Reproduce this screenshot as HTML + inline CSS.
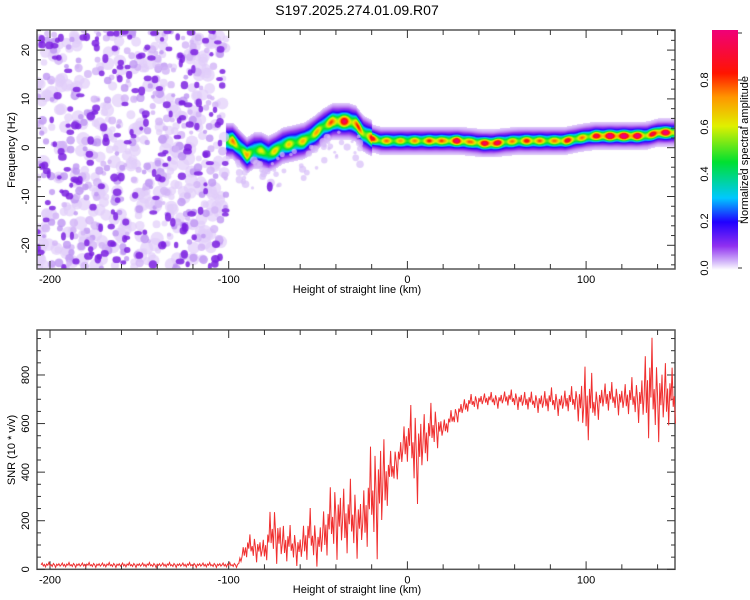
<!DOCTYPE html>
<html><head><meta charset="utf-8"><style>
body{margin:0;background:#fff;width:750px;height:600px;overflow:hidden;position:relative;font-family:"Liberation Sans",sans-serif}
#hm{position:absolute;left:37px;top:30px}
svg{position:absolute;left:0;top:0}
text{font-family:"Liberation Sans",sans-serif;font-size:11px;fill:#000}
</style></head><body>
<canvas id="hm" width="638" height="239"></canvas>
<svg id="s" width="750" height="600">
<defs><linearGradient id="cb" x1="0" y1="1" x2="0" y2="0">
<stop offset="0" stop-color="#ffffff"/><stop offset="0.03" stop-color="#d8c0fa"/><stop offset="0.1" stop-color="#9030f0"/>
<stop offset="0.2" stop-color="#2000ff"/><stop offset="0.3" stop-color="#00c8ff"/><stop offset="0.45" stop-color="#00e030"/>
<stop offset="0.6" stop-color="#e0f000"/><stop offset="0.72" stop-color="#ff9600"/><stop offset="0.82" stop-color="#ff1400"/><stop offset="1" stop-color="#f00078"/></linearGradient></defs>
<text x="357" y="15" text-anchor="middle" style="font-size:14px">S197.2025.274.01.09.R07</text>
<rect x="712" y="30" width="26" height="240" fill="url(#cb)"/>
<text transform="translate(748,150) rotate(-90)" text-anchor="middle">Normalized spectral amplitude</text>
<text x="357" y="293" text-anchor="middle">Height of straight line (km)</text>
<text x="357" y="593" text-anchor="middle">Height of straight line (km)</text>
<text transform="translate(15,150) rotate(-90)" text-anchor="middle">Frequency (Hz)</text>
<text transform="translate(15,450) rotate(-90)" text-anchor="middle">SNR (10 * v/v)</text>
<g id="ax"></g>
<polyline id="snr" fill="none" stroke="#f03030" stroke-width="1"/>
</svg>
<script>
// ---- data ----
const ridgeKm=[-101,-98,-94,-90,-86,-82,-78,-74,-70,-64,-58,-52,-47,-42,-37,-33,-29,-25,-20,-15,-10,-5,0,5,10,15,20,28,35,42,48,55,62,68,75,82,88,95,100,105,112,120,128,134,140,145,150];
const ridgeHz=[1.5,1.5,0,-1.5,-0.5,-0.5,-1.2,-0.5,0.5,1,1.5,3,4.5,5.5,5.5,5.5,5,3,2,1.5,1.5,1.5,1.5,1.5,1.5,1.5,1.5,1.5,1.3,1,1,1.3,1.5,1.5,1.5,1.5,1.5,2,2.3,2.5,2.5,2.5,2.5,2.6,3.2,3.2,3.2];
const ridgeAmp=[0.4,0.5,0.4,0.45,0.35,0.35,0.4,0.4,0.38,0.42,0.42,0.45,0.45,0.55,0.75,0.65,0.6,0.5,0.65,0.5,0.5,0.45,0.45,0.5,0.5,0.7,0.5,0.8,0.5,0.7,0.85,0.5,0.5,0.65,0.5,0.5,0.7,0.5,0.5,0.7,0.85,0.85,0.85,0.55,0.85,0.8,0.65];
const snrKm=[-205,-200,-195,-190,-185,-180,-175,-170,-165,-160,-155,-150,-145,-140,-135,-130,-125,-120,-115,-110,-105,-100,-95,-90,-85,-80,-75,-70,-65,-60,-55,-50,-45,-40,-35,-30,-25,-20,-15,-10,-5,0,5,10,15,20,25,30,35,40,45,50,55,60,65,70,75,80,85,90,95,100,105,110,115,120,125,130,135,140,145,150];
const snrLow=[8,8,8,8,8,8,8,8,8,8,8,8,8,8,8,8,8,8,8,8,8,8,8,40,30,20,30,10,20,10,20,10,30,40,30,40,50,60,30,300,380,420,250,400,480,530,580,620,650,660,670,660,670,660,650,650,640,640,630,640,630,460,600,640,640,630,620,600,490,520,550,600];
const snrHigh=[28,28,28,28,28,28,28,28,28,28,28,28,28,28,28,28,28,28,28,28,28,28,28,140,150,130,300,200,180,160,260,200,300,400,360,380,330,530,640,480,540,650,720,660,700,620,660,700,720,730,730,730,740,740,740,730,740,750,740,750,760,890,760,780,770,770,790,800,985,900,880,800];
const xTicks=[-200,-100,0,100];
const fTicks=[-20,-10,0,10,20];
const snrTicks=[0,200,400,600,800];
const cbTicks=[0,0.2,0.4,0.6,0.8];
// ---- scales ----
const X=k=>407.4+(k)*1.787;
const YF=f=>147.7-f*4.88;
const YS=v=>569.3-v*0.2429;
const YC=v=>268-v*235;
const NS='http://www.w3.org/2000/svg';
const ax=document.getElementById('ax');
function mk(t,a,txt){const e=document.createElementNS(NS,t);for(const k in a)e.setAttribute(k,a[k]);if(txt!==undefined)e.textContent=txt;ax.appendChild(e);return e;}
function frame(top,bot){
  const r=mk('rect',{x:37,y:top,width:638,height:bot-top,fill:'none',stroke:'#555','stroke-width':1.5});
  
  
  for(let k=-200;k<=140;k+=20){const x=X(k);const L=k%100===0?8:5;
    mk('line',{x1:x,y1:top,x2:x,y2:top+L,stroke:'#333'});mk('line',{x1:x,y1:bot,x2:x,y2:bot-L,stroke:'#333'});}
  for(const k of xTicks){const t=mk('text',{x:X(k),y:bot+14,'text-anchor':'middle'},String(k));
    
    }
}
frame(30,269);frame(330,569.3);
for(let f=-24;f<=24;f+=2){const y=YF(f);const L=f%10===0?8:4;
  mk('line',{x1:37,y1:y,x2:37+L,y2:y,stroke:'#333'});mk('line',{x1:675,y1:y,x2:675-L,y2:y,stroke:'#333'});}
for(const f of fTicks){const t=mk('text',{transform:`translate(29,${YF(f)}) rotate(-90)`,'text-anchor':'middle'},String(f));
  
  }
for(let v=0;v<=950;v+=50){const y=YS(v);const L=v%200===0?8:4;
  mk('line',{x1:37,y1:y,x2:37+L,y2:y,stroke:'#333'});mk('line',{x1:675,y1:y,x2:675-L,y2:y,stroke:'#333'});}
for(const v of snrTicks){const t=mk('text',{transform:`translate(29,${YS(v)}) rotate(-90)`,'text-anchor':'middle'},String(v));
  
  }
for(const v of cbTicks){const t=mk('text',{transform:`translate(708,${YC(v)}) rotate(-90)`,'text-anchor':'middle'},v.toFixed(1));
  
  }
for(let v=0;v<=1;v+=0.2){mk('line',{x1:738,y1:YC(v),x2:742,y2:YC(v),stroke:'#333'});}
// ---- SNR line ----
const pat=[0.5,0.9,0.3,0.6,0.1,0.7,0.45,1,0.35,0.55,0.2,0.8,0.5,0,0.65,0.4,0.75,0.25];
let pts=[];let j=0;
for(let i=0;i<snrKm.length-1;i++){
  for(let s=0;s<8;s++){const t=s/8;const k=snrKm[i]+(snrKm[i+1]-snrKm[i])*t;
    const lo=snrLow[i]+(snrLow[i+1]-snrLow[i])*t,hi=snrHigh[i]+(snrHigh[i+1]-snrHigh[i])*t;
    const p=pat[j++%pat.length];pts.push(X(k).toFixed(1)+','+YS(lo+(hi-lo)*p).toFixed(1));}
}
pts.push(X(150)+','+YS(snrLow[snrLow.length-1]));
document.getElementById('snr').setAttribute('points',pts.join(' '));
// ---- heatmap ----
const stops=[[0,[255,255,255]],[0.03,[225,205,250]],[0.1,[150,60,235]],[0.2,[40,0,255]],[0.3,[0,200,255]],[0.45,[0,230,40]],[0.6,[230,240,0]],[0.72,[255,150,0]],[0.82,[255,20,0]],[1,[240,0,120]]];
function cmap(v){for(let i=1;i<stops.length;i++){if(v<=stops[i][0]){const a=stops[i-1],b=stops[i],t=(v-a[0])/(b[0]-a[0]);return a[1].map((c,n)=>c+(b[1][n]-c)*t);}}return stops[stops.length-1][1];}
const cv=document.getElementById('hm'),ctx=cv.getContext('2d');
const W=638,H=239,img=ctx.createImageData(W,H);
function interp(arr,k){if(k<=ridgeKm[0])return arr[0];for(let i=1;i<ridgeKm.length;i++){if(k<=ridgeKm[i]){const t=(k-ridgeKm[i-1])/(ridgeKm[i]-ridgeKm[i-1]);return arr[i-1]+(arr[i]-arr[i-1])*t;}}return arr[arr.length-1];}
for(let px=0;px<W;px++){
  const k=(px+37-407.4)/1.787;
  if(k<ridgeKm[0]-1)continue;
  const yc=YF(interp(ridgeHz,k))-30;
  const a=interp(ridgeAmp,k)*(0.75+0.25*Math.cos(px*0.45));
  const sig=k<-20?4.5:3.2;const sw=k<-20?8:5;
  for(let py=0;py<H;py++){const d=py-yc;
    let v=a*Math.exp(-d*d/(2*sig*sig))+0.2*Math.exp(-d*d/(2*sw*sw))+0.06*Math.exp(-d*d/(2*120));
    if(v<0.03)continue;const c=cmap(Math.min(v,1));const o=(py*W+px)*4;
    img.data[o]=c[0];img.data[o+1]=c[1];img.data[o+2]=c[2];img.data[o+3]=255;}
}
ctx.putImageData(img,0,0);
// background noise texture (left of -100 km)
let seed=7;function rnd(){seed=(seed*16807)%2147483647;return seed/2147483647;}
const xr=X(-101)-37;
for(let i=0;i<380;i++){ctx.fillStyle='rgba(225,205,250,0.7)';ctx.beginPath();ctx.arc(rnd()*xr,rnd()*H,3+rnd()*4,0,7);ctx.fill();}
for(let i=0;i<300;i++){ctx.fillStyle=rnd()<0.5?'rgba(190,150,242,0.8)':'rgba(210,180,246,0.8)';ctx.beginPath();ctx.arc(rnd()*xr,rnd()*H,2+rnd()*2.5,0,7);ctx.fill();}
for(let i=0;i<200;i++){ctx.fillStyle='rgba(125,35,225,0.85)';ctx.beginPath();ctx.ellipse(rnd()*xr,rnd()*H,2+rnd()*2.5,2+rnd()*2.5,0,0,7);ctx.fill();}
// sparse blobs around ridge
for(let i=0;i<60;i++){const k=-95+rnd()*70;ctx.fillStyle='rgba(215,190,248,0.7)';ctx.beginPath();ctx.arc(X(k)-37,YF(interp(ridgeHz,k))-30+8+rnd()*30,1.5+rnd()*2.5,0,7);ctx.fill();}
ctx.fillStyle='rgba(120,30,225,0.9)';ctx.beginPath();ctx.ellipse(X(-77)-37,YF(-8)-30,3,5,0,0,7);ctx.fill();
</script>
</body></html>
